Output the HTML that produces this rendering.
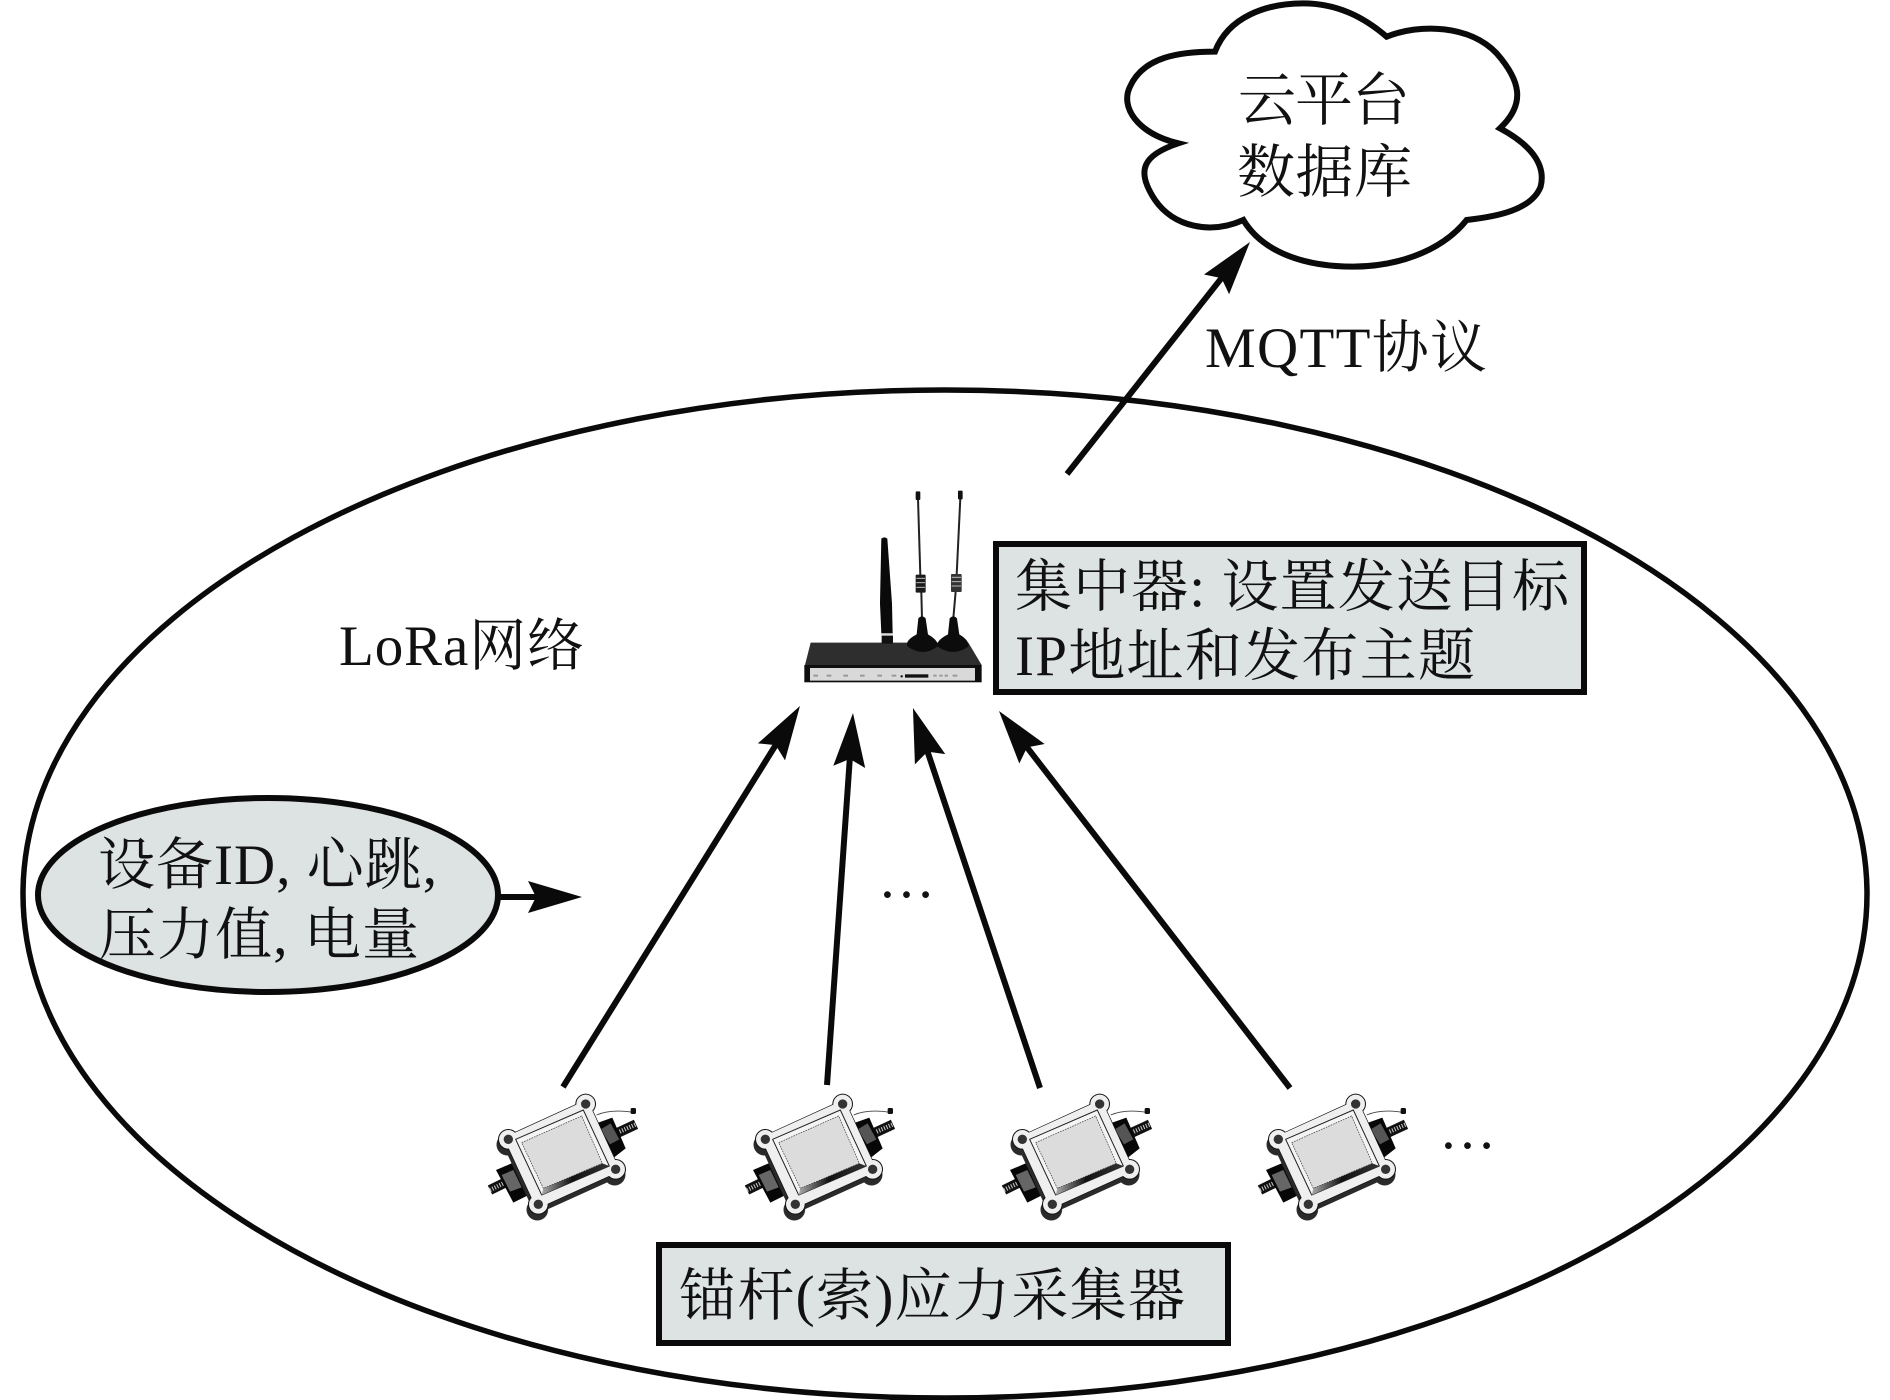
<!DOCTYPE html>
<html><head><meta charset="utf-8"><style>
html,body{margin:0;padding:0;background:#fff}
svg{display:block}
text{font-family:"Liberation Serif","Noto Serif CJK SC",serif;font-size:57px;fill:#111}
</style></head><body>
<svg width="1890" height="1400" viewBox="0 0 1890 1400" xmlns="http://www.w3.org/2000/svg">
<defs>
<marker id="a" markerUnits="userSpaceOnUse" markerWidth="70" markerHeight="44" refX="34" refY="22" orient="auto"><path d="M54,22 L0,6 L8,22 L0,38 Z" fill="#0a0a0a"/></marker>
<linearGradient id="g1" x1="0" y1="0" x2="1" y2="0"><stop offset="0" stop-color="#aaa"/><stop offset=".45" stop-color="#111"/><stop offset="1" stop-color="#333"/></linearGradient>
<g id="s" transform="translate(480,1080) scale(.3333)">
<path d="M350 105 C 385 90 430 92 465 98" fill="none" stroke="#444" stroke-width="2.5"/>
<rect x="452" y="84" width="16" height="18" rx="4" fill="#111"/>
<line x1="410" y1="160" x2="468" y2="133" stroke="#111" stroke-width="30"/>
<line x1="412" y1="158" x2="468" y2="133" stroke="#ccc" stroke-width="13" stroke-dasharray="3 5"/>
<line x1="30" y1="330" x2="85" y2="303" stroke="#111" stroke-width="30"/>
<line x1="30" y1="330" x2="85" y2="303" stroke="#ccc" stroke-width="13" stroke-dasharray="3 5"/>
<path d="M355 128 L397 113 L437 205 L395 238 Z" fill="#070707"/>
<path d="M362 148 L392 130 L418 178 L390 193 Z" fill="#555"/>
<path d="M48 270 L100 248 L152 342 L100 368 Z" fill="#070707"/>
<path d="M65 285 L100 270 L125 322 L90 335 Z" fill="#666"/>
<g transform="translate(-3,16)" fill="#2a2a2a" stroke="#2a2a2a"><path d="M85 178 L317 72 L407 268 L175 373 Z" stroke-width="24" stroke-linejoin="round"/><circle cx="85" cy="178" r="32"/><circle cx="175" cy="373" r="32"/><circle cx="407" cy="268" r="32"/></g>
<g fill="#111" stroke="#111"><path d="M85 178 L317 72 L407 268 L175 373 Z" stroke-width="24" stroke-linejoin="round"/><circle cx="317" cy="72" r="31" stroke="none"/><circle cx="85" cy="178" r="31" stroke="none"/><circle cx="175" cy="373" r="31" stroke="none"/><circle cx="407" cy="268" r="31" stroke="none"/></g>
<g fill="#efefef" stroke="#efefef"><path d="M85 178 L317 72 L407 268 L175 373 Z" stroke-width="20" stroke-linejoin="round"/><circle cx="317" cy="72" r="28" stroke="none"/><circle cx="85" cy="178" r="28" stroke="none"/><circle cx="175" cy="373" r="28" stroke="none"/><circle cx="407" cy="268" r="28" stroke="none"/></g>
<g fill="#333"><circle cx="317" cy="72" r="14"/><circle cx="85" cy="178" r="14"/><circle cx="175" cy="373" r="14"/><circle cx="407" cy="268" r="14"/></g>
<path d="M107 178 L310 90 L388 258 L185 345 Z" fill="#f4f4f4" stroke="#222" stroke-width="3" stroke-linejoin="round"/>
<path d="M190 325 L367 250 L388 258 L185 345 Z" fill="url(#g1)"/>
<path d="M125 188 L305 108 L367 250 L190 325 Z" fill="#dcdcdc" stroke="#333" stroke-width="2" stroke-dasharray="5 3"/>
</g>
</defs>

<ellipse cx="945" cy="894" rx="922" ry="504" fill="none" stroke="#0a0a0a" stroke-width="5.5"/>

<path transform="translate(1100,0) scale(.3333)" d="M345 155 C 385 50 500 10 610 10 C 710 10 790 50 860 110 C 960 70 1110 75 1190 160 C 1260 240 1280 310 1200 385 C 1285 430 1340 490 1322 560 C 1295 630 1190 650 1100 660 C 1020 760 880 800 760 800 C 620 800 490 760 430 660 C 330 705 220 680 165 600 C 105 510 130 465 235 430 C 110 400 60 320 90 260 C 130 170 240 155 345 155 Z" fill="#fff" stroke="#0a0a0a" stroke-width="18"/>
<text x="1238" y="120" textLength="172" style="font-size:58px">云平台</text>
<text x="1237" y="192" textLength="175" style="font-size:58px">数据库</text>

<g stroke="#0a0a0a" stroke-width="6" fill="none">
<line x1="1067" y1="474" x2="1237.6" y2="257.7" marker-end="url(#a)"/>
<line x1="563" y1="1087" x2="789.4" y2="723" marker-end="url(#a)"/>
<line x1="827" y1="1085" x2="851.6" y2="733" marker-end="url(#a)"/>
<line x1="1040" y1="1088" x2="919.3" y2="727" marker-end="url(#a)"/>
<line x1="1290" y1="1088" x2="1011.2" y2="726.8" marker-end="url(#a)"/>
<line x1="498" y1="897" x2="562" y2="897" marker-end="url(#a)"/>
</g>

<text x="1205" y="367" textLength="282">MQTT协议</text>
<text x="339" y="665" textLength="245">LoRa网络</text>

<ellipse cx="268" cy="895" rx="230" ry="97" fill="#dde3e2" stroke="#0a0a0a" stroke-width="6"/>
<text x="98" y="884" textLength="339">设备ID, 心跳,</text>
<text x="99" y="954" textLength="320">压力值, 电量</text>

<rect x="996" y="544" width="588" height="148" fill="#dde3e2" stroke="#0a0a0a" stroke-width="6"/>
<text x="1015" y="606" textLength="554">集中器: 设置发送目标</text>
<text x="1015" y="675" textLength="460">IP地址和发布主题</text>

<rect x="659" y="1245" width="569" height="98" fill="#dde3e2" stroke="#0a0a0a" stroke-width="6"/>
<text x="679" y="1315" textLength="506">锚杆(索)应力采集器</text>

<text x="878" y="897">…</text>
<text x="1439" y="1148">…</text>

<!-- router -->
<g transform="translate(780,470) scale(.3333)">
<path d="M92 518 L565 518 L605 585 L75 585 Z" fill="#2e2e2e"/>
<rect x="73" y="585" width="532" height="52" fill="#0e0e0e"/>
<rect x="90" y="594" width="495" height="38" fill="#d9d9d9"/>
<rect x="375" y="613" width="70" height="10" fill="#111"/>
<circle cx="365" cy="619" r="3.5" fill="#111"/>
<g fill="#999"><rect x="100" y="614" width="14" height="6"/><rect x="140" y="614" width="14" height="6"/><rect x="190" y="614" width="14" height="6"/><rect x="240" y="614" width="14" height="6"/><rect x="292" y="614" width="14" height="6"/><rect x="335" y="614" width="14" height="6"/><rect x="460" y="614" width="10" height="6"/><rect x="478" y="614" width="10" height="6"/><rect x="494" y="614" width="10" height="6"/><rect x="518" y="614" width="14" height="6"/></g>
<path d="M304 206 Q313 198 322 206 L336 400 L338 490 L304 490 L300 400 Z" fill="#0a0a0a"/>
<rect x="304" y="490" width="35" height="7" fill="#ddd"/>
<rect x="305" y="497" width="34" height="24" fill="#111"/>
<g stroke="#222" stroke-width="6" fill="none"><line x1="414" y1="85" x2="421" y2="315"/><line x1="424" y1="365" x2="426" y2="445"/><line x1="541" y1="85" x2="530" y2="315"/><line x1="527" y1="365" x2="520" y2="445"/></g>
<rect x="407" y="64" width="14" height="26" rx="3" fill="#111"/><rect x="534" y="62" width="14" height="26" rx="3" fill="#111"/>
<rect x="407" y="314" width="30" height="54" rx="3" fill="#1a1a1a"/><rect x="513" y="312" width="32" height="54" rx="3" fill="#333"/>
<g stroke="#bbb" stroke-width="3"><line x1="409" y1="325" x2="435" y2="325"/><line x1="409" y1="338" x2="435" y2="338"/><line x1="409" y1="352" x2="435" y2="352"/><line x1="515" y1="322" x2="543" y2="322"/><line x1="515" y1="335" x2="543" y2="335"/><line x1="515" y1="348" x2="543" y2="348"/></g>
<path d="M415 445 Q426 433 437 445 L444 493 Q478 513 472 530 Q430 562 383 530 Q373 513 410 493 Z" fill="#0c0c0c"/>
<path d="M509 445 Q520 433 531 445 L538 493 Q570 513 565 530 Q520 562 473 530 Q466 513 504 493 Z" fill="#0c0c0c"/>
</g>

<use href="#s"/>
<use href="#s" x="257"/>
<use href="#s" x="514"/>
<use href="#s" x="770"/>
</svg>
</body></html>
